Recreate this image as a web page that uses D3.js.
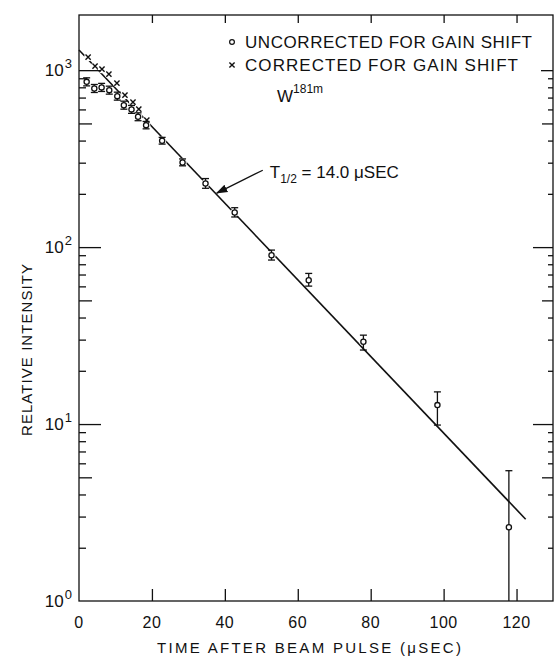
<!DOCTYPE html>
<html>
<head>
<meta charset="utf-8">
<script src="https://cdn.jsdelivr.net/npm/d3@7"></script>
<style>
  body { margin: 0; background: #fff; }
  svg text { font-family: "Liberation Sans", Arial, sans-serif; fill: #111; }
</style>
</head>
<body>
<div id="chart"></div>
<script>
// uncorrected points (circles with error bars)
const timeU  = [2.1, 4.2, 6.2, 8.3, 10.5, 12.3, 14.4, 16.2, 18.4, 22.8, 28.4, 34.7, 42.7, 52.8, 63.0, 78.0, 98.3, 117.9];
const countU = [859, 788, 799, 771, 713, 634, 600, 545, 489, 399, 301, 229, 157, 90, 65, 29.2, 12.8, 2.61];
const errLo  = [815, 748, 758, 732, 677, 602, 570, 518, 466, 382, 288, 215, 148, 84.5, 60.2, 26.2, 9.87, 0.9];
const errHi  = [905, 830, 842, 812, 751, 668, 632, 574, 513, 417, 315, 244, 167, 96.2, 71.0, 31.8, 15.2, 5.45];
// corrected points (crosses)
const timeC  = [2.5, 4.4, 6.3, 8.2, 10.4, 12.6, 14.8, 16.4, 18.6];
const countC = [1184, 1054, 1013, 949, 845, 722, 660, 602, 522];
// fitted decay line, T1/2 = 14.0 usec
const fitT = [0, 122.5];
const fitV = [1300, 2.9];
// arrow of the half-life note (tail, tip)
const arrowT = [50.4, 37.8];
const arrowV = [272, 202];

const xTicks = [0, 20, 40, 60, 80, 100, 120];
const yMajor = [10, 100, 1000];
const yMid = [5, 50, 500];
const yMinor = [2, 3, 4, 6, 7, 8, 9, 20, 30, 40, 60, 70, 80, 90, 200, 300, 400, 600, 700, 800, 900];
const yLabels = [[1, "0"], [10, "1"], [100, "2"], [1000, "3"]];

const W = 555, H = 661;
const L = 79, R = 553, T = 15, B = 601;

const svg = d3.select("#chart").append("svg").attr("width", W).attr("height", H);

const x = d3.scaleLinear().domain([0, 130]).range([L, R]);
const y = d3.scaleLog().domain([1, 2050]).range([B, T]).clamp(true);

const ink = "#111";

// fitted line
const fit = fitT.map((t, i) => ({t, v: fitV[i]}));
svg.append("path")
  .attr("d", d3.line().x(d => x(d.t)).y(d => y(d.v))(fit))
  .attr("fill", "none").attr("stroke", ink).attr("stroke-width", 1.6);

// white halos so the line breaks around the points
const halo = svg.append("g").attr("fill", "#fff");
timeU.forEach((t, i) => halo.append("circle").attr("cx", x(t)).attr("cy", y(countU[i])).attr("r", 4.2));
timeC.forEach((t, i) => halo.append("circle").attr("cx", x(t)).attr("cy", y(countC[i])).attr("r", 4));

// frame
svg.append("rect").attr("x", L).attr("y", T).attr("width", R - L).attr("height", B - T)
  .attr("fill", "none").attr("stroke", ink).attr("stroke-width", 1.3);

function yTicks(axisFn, xpos, vals, len) {
  const g = svg.append("g").attr("transform", `translate(${xpos},0)`)
    .call(axisFn(y).tickValues(vals).tickSize(-len).tickFormat(""));
  g.select(".domain").remove();
  g.selectAll("line").attr("stroke", ink).attr("stroke-width", 1.3);
}
yTicks(d3.axisLeft, L, yMajor, 22);
yTicks(d3.axisLeft, L, yMid, 13);
yTicks(d3.axisLeft, L, yMinor, 7);
yTicks(d3.axisRight, R, [10, 100], 20);
yTicks(d3.axisRight, R, [1000], 12);
yTicks(d3.axisRight, R, yMid, 11);
yTicks(d3.axisRight, R, yMinor, 5);

function xTickMarks(axisFn, ypos, len) {
  const g = svg.append("g").attr("transform", `translate(0,${ypos})`)
    .call(axisFn(x).tickValues(xTicks.slice(1)).tickSize(-len).tickFormat(""));
  g.select(".domain").remove();
  g.selectAll("line").attr("stroke", ink).attr("stroke-width", 1.3);
}
xTickMarks(d3.axisBottom, B, 12);
xTickMarks(d3.axisTop, T, 8);

// x tick labels
svg.append("g").selectAll("text").data(xTicks).join("text")
  .attr("x", d => x(d)).attr("y", 628)
  .attr("text-anchor", "middle").attr("font-size", 16).attr("letter-spacing", 0.5)
  .text(d => d);

// y tick labels 10^n
const yl = svg.append("g").selectAll("text").data(yLabels).join("text")
  .attr("x", 72).attr("y", d => y(d[0]) + 6)
  .attr("text-anchor", "end").attr("font-size", 17);
yl.append("tspan").text("10");
yl.append("tspan").attr("dy", -8).attr("dx", 1).attr("font-size", 13).text(d => d[1]);

// axis titles
svg.append("text").attr("x", 309).attr("y", 653).attr("text-anchor", "middle")
  .attr("font-size", 15).attr("textLength", 304).attr("lengthAdjust", "spacing")
  .text("TIME AFTER BEAM PULSE (\u03bcSEC)");
svg.append("text").attr("transform", "translate(32,350) rotate(-90)").attr("text-anchor", "middle")
  .attr("font-size", 15).attr("textLength", 172).attr("lengthAdjust", "spacing")
  .text("RELATIVE INTENSITY");

// error bars
const eb = svg.append("g").attr("stroke", ink).attr("stroke-width", 1.3);
timeU.forEach((t, i) => {
  const cx = x(t);
  eb.append("line").attr("x1", cx).attr("x2", cx).attr("y1", y(errLo[i])).attr("y2", y(errHi[i]));
  [errLo[i], errHi[i]].forEach(v => {
    if (v < y.domain()[0]) return;
    eb.append("line").attr("x1", cx - 3.5).attr("x2", cx + 3.5).attr("y1", y(v)).attr("y2", y(v));
  });
});

// circles
svg.append("g").selectAll("circle").data(timeU).join("circle")
  .attr("cx", d => x(d)).attr("cy", (d, i) => y(countU[i])).attr("r", 2.6)
  .attr("fill", "#fff").attr("stroke", ink).attr("stroke-width", 1.3);

// crosses, drawn as a small letter x
const xMark = "M-2.6,-2.6L2.6,2.6M-2.6,2.6L2.6,-2.6";
svg.append("g").selectAll("path").data(timeC).join("path")
  .attr("d", xMark)
  .attr("transform", (d, i) => `translate(${x(d)},${y(countC[i])})`)
  .attr("fill", "none").attr("stroke", ink).attr("stroke-width", 1.4);

// legend
const lg = svg.append("g");
lg.append("circle").attr("cx", 232).attr("cy", 42).attr("r", 2.4)
  .attr("fill", "#fff").attr("stroke", ink).attr("stroke-width", 1.2);
lg.append("path").attr("d", xMark).attr("transform", "translate(232,65)")
  .attr("fill", "none").attr("stroke", ink).attr("stroke-width", 1.4);
lg.append("text").attr("x", 245).attr("y", 48).attr("font-size", 17)
  .attr("textLength", 287).attr("lengthAdjust", "spacing").text("UNCORRECTED FOR GAIN SHIFT");
lg.append("text").attr("x", 245).attr("y", 71).attr("font-size", 17)
  .attr("textLength", 273).attr("lengthAdjust", "spacing").text("CORRECTED FOR GAIN SHIFT");

// isotope label
const iso = svg.append("text").attr("x", 277).attr("y", 102).attr("font-size", 17);
iso.append("tspan").text("W");
iso.append("tspan").attr("dy", -9).attr("font-size", 12).text("181m");

// half-life note with arrow
const tail = [x(arrowT[0]), y(arrowV[0])], tip = [x(arrowT[1]), y(arrowV[1])];
svg.append("defs").append("marker").attr("id", "ah").attr("viewBox", "0 0 10 10")
  .attr("refX", 9).attr("refY", 5).attr("markerWidth", 9).attr("markerHeight", 9)
  .attr("orient", "auto").append("path").attr("d", "M0,1.5L10,5L0,8.5z").attr("fill", ink);
svg.append("line").attr("x1", tail[0]).attr("y1", tail[1]).attr("x2", tip[0]).attr("y2", tip[1])
  .attr("stroke", ink).attr("stroke-width", 1.3).attr("marker-end", "url(#ah)");
const note = svg.append("text").attr("x", tail[0] + 7).attr("y", tail[1] + 8).attr("font-size", 17);
note.append("tspan").text("T");
note.append("tspan").attr("dy", 5).attr("font-size", 12).text("1/2");
note.append("tspan").attr("dy", -5).text(" = 14.0 ");
note.append("tspan").text("\u03bcSEC");
</script>
</body>
</html>
